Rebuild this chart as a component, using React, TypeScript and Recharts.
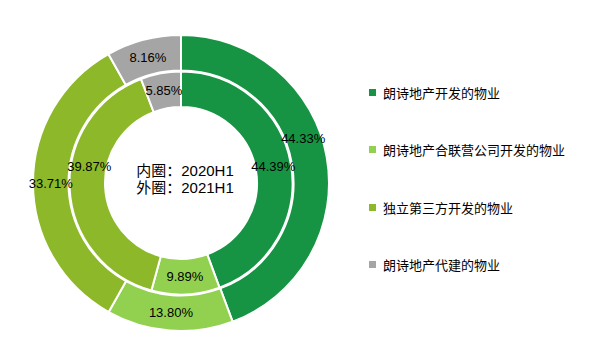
import { PieChart, Pie, Cell } from "recharts";

const categories = [
  "朗诗地产开发的物业",
  "朗诗地产合联营公司开发的物业",
  "独立第三方开发的物业",
  "朗诗地产代建的物业",
];
const inner2020H1 = [44.39, 9.89, 39.87, 5.85];
const outer2021H1 = [44.33, 13.8, 33.71, 8.16];
const colors = ["#169443", "#92D050", "#8CB82A", "#A5A5A5"];

const FONT = '"Liberation Sans", Arial, "Noto Sans CJK SC", sans-serif';
const RAD = Math.PI / 180;

const innerData = categories.map((name, i) => ({ name, value: inner2020H1[i] }));
const outerData = categories.map((name, i) => ({ name, value: outer2021H1[i] }));

// Excel nudged a couple of labels off their slice centre to avoid overlaps
const innerShift: Record<number, [number, number]> = { 2: [2, -21] };
const outerShift: Record<number, [number, number]> = { 0: [-6, -21] };

function makeLabel(shift: Record<number, [number, number]>) {
  return (props: any) => {
    const { cx, cy, midAngle, innerRadius, outerRadius, value, index } = props;
    const r = (innerRadius + outerRadius) / 2;
    const [dx, dy] = shift[index] || [0, 0];
    const x = cx + r * Math.cos(-midAngle * RAD) + dx;
    const y = cy + r * Math.sin(-midAngle * RAD) + dy;
    return (
      <text
        x={x}
        y={y}
        textAnchor="middle"
        dominantBaseline="central"
        fontSize={13}
        fontFamily={FONT}
        fill="#000"
      >
        {value.toFixed(2)}%
      </text>
    );
  };
}

export default function App() {
  return (
    <div
      style={{
        position: "absolute",
        left: 0,
        top: 0,
        width: 603,
        height: 354,
        background: "#fff",
        fontFamily: FONT,
      }}
    >
      <PieChart width={603} height={354} margin={{ top: 0, right: 0, bottom: 0, left: 0 }}>
        <Pie
          data={innerData}
          dataKey="value"
          cx={181}
          cy={183}
          innerRadius={76}
          outerRadius={111.5}
          startAngle={90}
          endAngle={-270}
          stroke="#fff"
          strokeWidth={2}
          label={makeLabel(innerShift)}
          labelLine={false}
          isAnimationActive={false}
        >
          {innerData.map((d, i) => (
            <Cell key={d.name} fill={colors[i]} />
          ))}
        </Pie>
        <Pie
          data={outerData}
          dataKey="value"
          cx={181}
          cy={183}
          innerRadius={112.5}
          outerRadius={148}
          startAngle={90}
          endAngle={-270}
          stroke="#fff"
          strokeWidth={2}
          label={makeLabel(outerShift)}
          labelLine={false}
          isAnimationActive={false}
        >
          {outerData.map((d, i) => (
            <Cell key={d.name} fill={colors[i]} />
          ))}
        </Pie>
        <text
          x={185}
          y={170}
          textAnchor="middle"
          dominantBaseline="central"
          fontSize={15}
          fontFamily={FONT}
          fill="#000"
        >
          内圈：2020H1
        </text>
        <text
          x={185}
          y={187}
          textAnchor="middle"
          dominantBaseline="central"
          fontSize={15}
          fontFamily={FONT}
          fill="#000"
        >
          外圈：2021H1
        </text>
      </PieChart>
      <div style={{ position: "absolute", left: 369, top: 83 }}>
        {categories.map((c, i) => (
          <div
            key={c}
            style={{
              display: "flex",
              alignItems: "center",
              height: 18,
              marginBottom: i < categories.length - 1 ? 39.5 : 0,
              fontSize: 13,
              color: "#000",
            }}
          >
            <span
              style={{
                display: "inline-block",
                width: 7,
                height: 7,
                background: colors[i],
                marginRight: 7,
              }}
            />
            {c}
          </div>
        ))}
      </div>
    </div>
  );
}
